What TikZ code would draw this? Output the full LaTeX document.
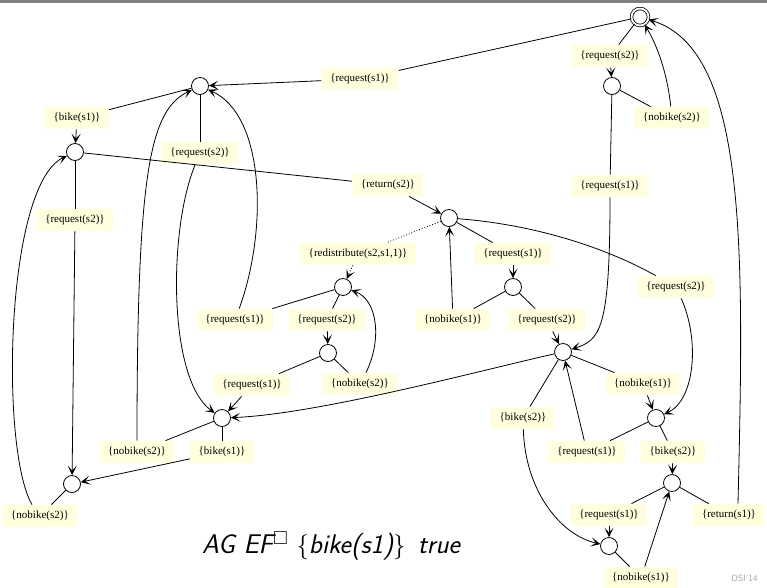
\documentclass[tikz,border=0pt]{standalone}
\usepackage{amssymb}
\usepackage{fontspec}
\newfontfamily\lblfont{Liberation Serif}
\usetikzlibrary{arrows.meta}
\definecolor{lblyellow}{RGB}{255,255,221}
\definecolor{bargray}{RGB}{128,128,128}

\begin{document}
\begin{tikzpicture}[x=1pt,y=-1pt,line width=0.8pt,>={Stealth[length=9.5pt,width=9pt,inset=5pt]}]
    \tikzstyle{st}=[circle, minimum size=17pt, inner sep=0pt, draw]
    \tikzstyle{lbl}=[fill=lblyellow, font=\lblfont\fontsize{11}{13}\selectfont, inner xsep=8.5pt, inner ysep=0pt, minimum height=22pt]

    \useasboundingbox (0,0) rectangle (767,587);
    \fill[bargray] (0,0) rectangle (767,3);

    \node[st, double, double distance=1.8pt] (s0) at (640,17) {};
    \node[st] (s1)  at (612,86)  {};
    \node[st] (s2)  at (200,86)  {};
    \node[st] (s3)  at (75,152)  {};
    \node[st] (s4)  at (449,218) {};
    \node[st] (s5)  at (343,287) {};
    \node[st] (s6)  at (513,287) {};
    \node[st] (s7)  at (328,353) {};
    \node[st] (s8)  at (563,352) {};
    \node[st] (s9)  at (222,418) {};
    \node[st] (s10) at (656,418) {};
    \node[st] (s11) at (72,484)  {};
    \node[st] (s12) at (672,483) {};
    \node[st] (s13) at (609,546) {};

    \node[lbl] (t1)  at (360,79)  {\{request(s1)\}};
    \node[lbl] (t2)  at (610,56)  {\{request(s2)\}};
    \node[lbl] (t3)  at (672,118) {\{nobike(s2)\}};
    \node[lbl] (t4)  at (610,186) {\{request(s1)\}};
    \node[lbl] (t5)  at (77,118)  {\{bike(s1)\}};
    \node[lbl] (t6)  at (200,153) {\{request(s2)\}};
    \node[lbl] (t7)  at (388,185) {\{return(s2)\}};
    \node[lbl] (t8)  at (75,220)  {\{request(s2)\}};
    \node[lbl] (t9)  at (40,516)  {\{nobike(s2)\}};
    \node[lbl] (t10) at (222,452) {\{bike(s1)\}};
    \node[lbl] (t11) at (137,452) {\{nobike(s2)\}};
    \node[lbl] (t12) at (358,254) {\{redistribute(s2,s1,1)\}};
    \node[lbl] (t13) at (513,254) {\{request(s1)\}};
    \node[lbl] (t14) at (676,287) {\{request(s2)\}};
    \node[lbl] (t15) at (453,320) {\{nobike(s1)\}};
    \node[lbl] (t16) at (547,320) {\{request(s2)\}};
    \node[lbl] (t17) at (235,320) {\{request(s1)\}};
    \node[lbl] (t18) at (327,320) {\{request(s2)\}};
    \node[lbl] (t19) at (252,385) {\{request(s1)\}};
    \node[lbl] (t20) at (360,384) {\{nobike(s2)\}};
    \node[lbl] (t21) at (643,384) {\{nobike(s1)\}};
    \node[lbl] (t22) at (523,418) {\{bike(s2)\}};
    \node[lbl] (t23) at (587,452) {\{request(s1)\}};
    \node[lbl] (t24) at (673,452) {\{bike(s2)\}};
    \node[lbl] (t25) at (609,515) {\{request(s1)\}};
    \node[lbl] (t26) at (729,515) {\{return(s1)\}};
    \node[lbl] (t27) at (641,578) {\{nobike(s1)\}};

    \draw (s0) -- (t1);   \draw[->] (t1) -- (s2);
    \draw (s0) -- (t2);   \draw[->] (t2) -- (s1);
    \draw (s1) -- (t3);   \draw[->] (t3) .. controls (668,80) and (660,50) .. (s0);
    \draw (s1) -- (t4);   \draw[->] (t4) .. controls (610,330) and (600,340) .. (s8);
    \draw (s2) -- (t5);   \draw[->] (t5) -- (s3);
    \draw (s2) -- (t6);   \draw[->] (t6) .. controls (168,230) and (168,380) .. (s9);
    \draw (s3) -- (t7);   \draw[->] (t7) -- (s4);
    \draw (s3) -- (t8);   \draw[->] (t8) -- (s11);
    \draw (s11) -- (t9);  \draw[->] ([xshift=-8pt]t9.north) .. controls (0,450) and (5,185) .. (s3);
    \draw (s9) -- (t10);  \draw[->] (t10) -- (s11);
    \draw (s9) -- (t11);  \draw[->] (t11) .. controls (137,170) and (150,110) .. (s2);
    \draw[dotted] (s4) -- (t12);  \draw[dotted,->] (t12) -- (s5);
    \draw (s4) -- (t13);  \draw[->] (t13) -- (s6);
    \draw (s4) .. controls (540,225) and (610,250) .. (t14);
    \draw[->] (t14) .. controls (700,340) and (695,400) .. (s10);
    \draw (s6) -- (t15);  \draw[->] (t15) -- (s4);
    \draw (s6) -- (t16);  \draw[->] (t16) -- (s8);
    \draw (s5) -- (t17);  \draw[->] (t17) .. controls (268,230) and (265,115) .. (s2);
    \draw (s5) -- (t18);  \draw[->] (t18) -- (s7);
    \draw (s7) -- (t19);  \draw[->] (t19) -- (s9);
    \draw (s7) -- (t20);  \draw[->] ([xshift=6pt]t20.north) .. controls (382,340) and (378,300) .. (s5);
    \draw[->] (s8) .. controls (490,368) and (320,414) .. (s9);
    \draw (s8) -- (t21);  \draw[->] (t21) -- (s10);
    \draw (s8) -- (t22);  \draw[->] (t22) .. controls (525,490) and (560,535) .. (s13);
    \draw (s10) -- (t23); \draw[->] (t23) -- (s8);
    \draw (s10) -- (t24); \draw[->] (t24) -- (s12);
    \draw (s12) -- (t25); \draw[->] (t25) -- (s13);
    \draw (s12) -- (t26); \draw[->] ([xshift=9pt]t26.north) .. controls (744,250) and (748,50) .. (s0);
    \draw (s13) -- (t27); \draw[->] (t27) -- (s12);

    \node[font=\fontsize{27}{30}\selectfont] (prop) at (331,546)
      {{\sffamily\itshape AG EF}$^{\square}$ $\{${\sffamily\itshape bike(s1)}$\}$\ \hspace{4pt}{\sffamily\itshape true}};
    \node[anchor=north west, inner sep=0pt, text=gray!70, font=\sffamily\fontsize{9}{11}\selectfont] (foot) at (731,575) {DSI'14};
\end{tikzpicture}
\end{document}
